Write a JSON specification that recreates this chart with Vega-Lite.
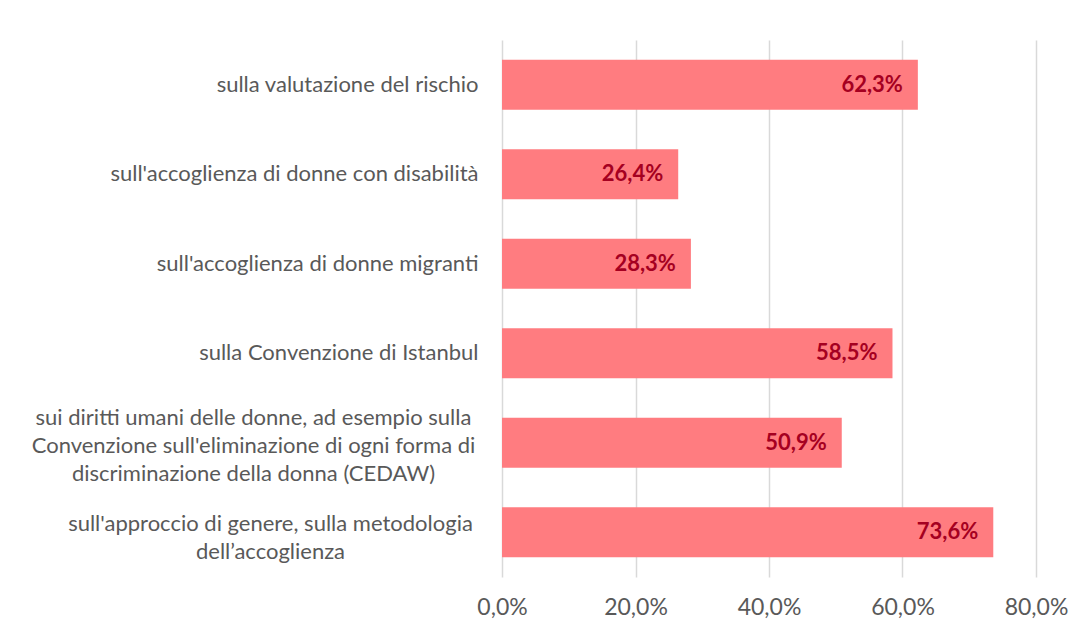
{
  "$schema": "https://vega.github.io/schema/vega-lite/v6.json",
  "autosize": "none",
  "width": 534,
  "height": 537,
  "padding": {"left": 502, "top": 40, "right": 44, "bottom": 55},
  "background": "white",
  "config": {
    "view": {"stroke": null},
    "font": "Lato",
    "locale": {"number": {"decimal": ",", "thousands": ".", "grouping": [3], "currency": ["€", ""]}}
  },
  "data": {
    "values": [
      {"cat": "sulla valutazione del rischio", "v": 0.623},
      {"cat": "sull'accoglienza di donne con disabilità", "v": 0.264},
      {"cat": "sull'accoglienza di donne migranti", "v": 0.283},
      {"cat": "sulla Convenzione di Istanbul", "v": 0.585},
      {"cat": "sui diritti umani delle donne, ad esempio sulla|Convenzione sull'eliminazione di ogni forma di|discriminazione della donna (CEDAW)", "v": 0.509},
      {"cat": "sull'approccio di genere, sulla metodologia|dell’accoglienza", "v": 0.736}
    ]
  },
  "encoding": {
    "y": {
      "field": "cat",
      "type": "nominal",
      "sort": null,
      "scale": {"paddingInner": 0.44, "paddingOuter": 0.22},
      "axis": {
        "title": null,
        "labelExpr": "split(datum.value, '|')",
        "domain": false,
        "ticks": false,
        "labelAlign": {"condition": {"test": "datum.value.length > 50", "value": "center"}, "value": "right"},
        "labelPadding": {"condition": [{"test": "datum.value.length > 100", "value": 249}, {"test": "datum.value.length > 50", "value": 232}], "value": 24},
        "labelOffset": {"condition": [{"test": "datum.value.length > 100", "value": -25}, {"test": "datum.value.length > 50", "value": -8}], "value": 0},
        "labelFontSize": 22,
        "labelColor": "#595959",
        "labelFont": "Lato",
        "labelLineHeight": 28,
        "labelLimit": 600
      }
    }
  },
  "layer": [
    {
      "mark": {"type": "bar", "color": "#FF7C80"},
      "encoding": {
        "x": {
          "field": "v",
          "type": "quantitative",
          "scale": {"domain": [0, 0.8], "nice": false},
          "axis": {
            "title": null,
            "format": ".1%",
            "values": [0, 0.2, 0.4, 0.6, 0.8],
            "domain": false,
            "ticks": false,
            "grid": true,
            "gridColor": "#d9d9d9",
            "gridWidth": 1.5,
            "labelFlush": false,
            "labelPadding": 19,
            "labelFontSize": 23,
            "labelColor": "#595959",
            "labelFont": "Lato"
          }
        }
      }
    },
    {
      "mark": {"type": "text", "align": "right", "dx": -15, "fontSize": 22, "fontWeight": "bold", "color": "#A50021", "font": "Lato"},
      "encoding": {
        "x": {"field": "v", "type": "quantitative"},
        "text": {"field": "v", "type": "quantitative", "format": ".1%"}
      }
    }
  ]
}
